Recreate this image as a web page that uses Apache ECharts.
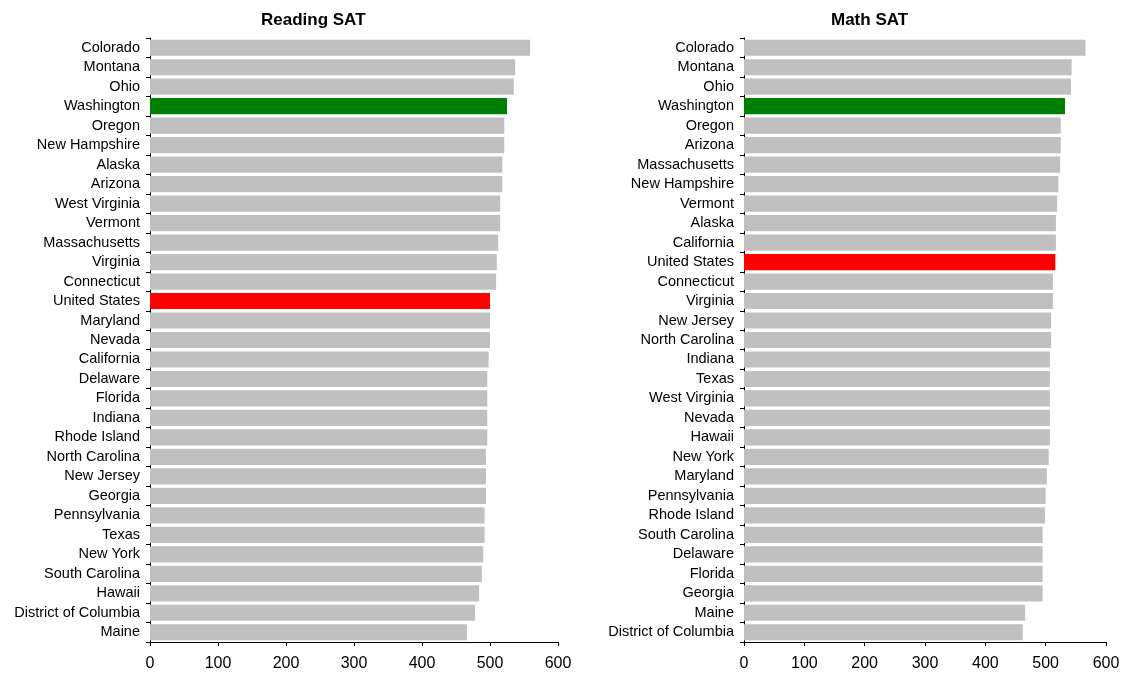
<!DOCTYPE html>
<html>
<head>
<meta charset="utf-8">
<script src="https://cdn.jsdelivr.net/npm/echarts@6/dist/echarts.min.js"></script>
<style>
  html, body { margin: 0; padding: 0; background: #fff; }
  #main { width: 1123px; height: 677px; }
</style>
</head>
<body>
<div id="main"></div>
<script>
var readingStates = ['Colorado', 'Montana', 'Ohio', 'Washington', 'Oregon', 'New Hampshire', 'Alaska', 'Arizona',
  'West Virginia', 'Vermont', 'Massachusetts', 'Virginia', 'Connecticut', 'United States', 'Maryland', 'Nevada',
  'California', 'Delaware', 'Florida', 'Indiana', 'Rhode Island', 'North Carolina', 'New Jersey', 'Georgia',
  'Pennsylvania', 'Texas', 'New York', 'South Carolina', 'Hawaii', 'District of Columbia', 'Maine'];
var readingScores = [559, 537, 535, 525, 521, 521, 518, 518,
  515, 515, 512, 510, 509, 500, 500, 500,
  498, 496, 496, 496, 496, 494, 494, 494,
  492, 492, 490, 488, 484, 478, 466];

var mathStates = ['Colorado', 'Montana', 'Ohio', 'Washington', 'Oregon', 'Arizona', 'Massachusetts', 'New Hampshire',
  'Vermont', 'Alaska', 'California', 'United States', 'Connecticut', 'Virginia', 'New Jersey', 'North Carolina',
  'Indiana', 'Texas', 'West Virginia', 'Nevada', 'Hawaii', 'New York', 'Maryland', 'Pennsylvania',
  'Rhode Island', 'South Carolina', 'Delaware', 'Florida', 'Georgia', 'Maine', 'District of Columbia'];
var mathScores = [566, 543, 542, 532, 525, 525, 524, 521,
  519, 517, 517, 516, 512, 512, 509, 509,
  507, 507, 507, 507, 507, 505, 502, 500,
  499, 495, 495, 495, 495, 466, 462];

var xTicks = [0, 100, 200, 300, 400, 500, 600];

var grey = '#C0C0C0';
var stateColor = '#008000';
var usColor = '#FF0000';

function colored(states, scores) {
  return scores.map(function (v, i) {
    var c = grey;
    if (states[i] === 'Washington') c = stateColor;
    if (states[i] === 'United States') c = usColor;
    return { value: v, itemStyle: { color: c } };
  });
}

var dom = document.getElementById('main');
var myChart = echarts.init(dom, null, { renderer: 'canvas' });

var font = 'Liberation Sans, Arial, sans-serif';

function xAxisFor(idx) {
  return {
    type: 'value',
    gridIndex: idx,
    min: xTicks[0],
    max: xTicks[xTicks.length - 1],
    interval: 100,
    axisLine: { show: true, lineStyle: { color: '#000', width: 1 } },
    axisTick: { show: true, length: 4, lineStyle: { color: '#000' } },
    axisLabel: { color: '#000', fontSize: 16, fontFamily: font, margin: 14 },
    splitLine: { show: false }
  };
}

function yAxisFor(idx, states) {
  return {
    type: 'category',
    gridIndex: idx,
    inverse: true,
    data: states,
    axisLine: { show: true, lineStyle: { color: '#000', width: 1 } },
    axisTick: { show: true, length: 4, interval: 0, lineStyle: { color: '#000' } },
    axisLabel: { color: '#000', fontSize: 14.5, fontFamily: font, margin: 10, interval: 0, hideOverlap: false },
    splitLine: { show: false }
  };
}

var titleStyle = { fontSize: 17, fontWeight: 'bold', color: '#000', fontFamily: font };

var option = {
  animation: false,
  title: [
    { text: 'Reading SAT', left: 256, top: 7, textStyle: titleStyle },
    { text: 'Math SAT', left: 826, top: 7, textStyle: titleStyle }
  ],
  grid: [
    { left: 150, width: 408, top: 38, height: 604 },
    { left: 744, width: 362, top: 38, height: 604 }
  ],
  xAxis: [xAxisFor(0), xAxisFor(1)],
  yAxis: [yAxisFor(0, readingStates), yAxisFor(1, mathStates)],
  series: [
    {
      name: 'Reading SAT',
      type: 'bar',
      xAxisIndex: 0,
      yAxisIndex: 0,
      barCategoryGap: '17%',
      data: colored(readingStates, readingScores)
    },
    {
      name: 'Math SAT',
      type: 'bar',
      xAxisIndex: 1,
      yAxisIndex: 1,
      barCategoryGap: '17%',
      data: colored(mathStates, mathScores)
    }
  ]
};

myChart.setOption(option);
window.addEventListener('resize', myChart.resize);
</script>
</body>
</html>
